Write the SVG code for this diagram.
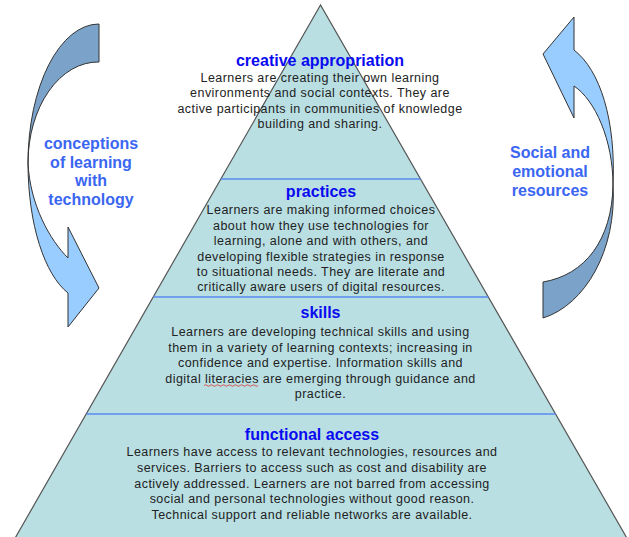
<svg xmlns="http://www.w3.org/2000/svg" width="629" height="537" viewBox="0 0 629 537">
<style>
.layer{fill:#B9DFE3;}
.title{font-family:"Liberation Sans",Arial,sans-serif;font-weight:bold;font-size:16px;fill:#0A0AF0;text-anchor:middle;}
.body{font-family:"Liberation Sans",Arial,sans-serif;font-size:12.5px;letter-spacing:0.45px;fill:#222;text-anchor:middle;}
.side{font-family:"Liberation Sans",Arial,sans-serif;font-weight:bold;font-size:16px;fill:#3A66F2;text-anchor:middle;}
.div{stroke:#5A8AF0;stroke-width:1.5;fill:none;}
.dark{fill:#7BA3C9;stroke:#333;stroke-width:1;}
.light{fill:#99CCFF;stroke:#333;stroke-width:1;}
</style>
<rect width="629" height="537" fill="#fff"/>
<g id="pyramid-outline">
<polygon points="320.5,5 14,540 628,540" fill="#B9DFE3" stroke="#555" stroke-width="1.2"/>
</g>
<g id="creative-appropriation">
<text class="title" x="320" y="66">creative appropriation</text>
<text class="body" x="320" y="81.5">Learners are creating their own learning</text>
<text class="body" x="320" y="97">environments and social contexts. They are</text>
<text class="body" x="320" y="112.5">active participants in communities of knowledge</text>
<text class="body" x="320" y="128">building and sharing.</text>
</g>
<g id="practices">
<text class="title" x="321" y="196.5">practices</text>
<text class="body" x="321" y="214">Learners are making informed choices</text>
<text class="body" x="321" y="229.5">about how they use technologies for</text>
<text class="body" x="321" y="245">learning, alone and with others, and</text>
<text class="body" x="321" y="260.5">developing flexible strategies in response</text>
<text class="body" x="321" y="276">to situational needs. They are literate and</text>
<text class="body" x="321" y="291">critically aware users of digital resources.</text>
</g>
<g id="skills">
<text class="title" x="320.5" y="318">skills</text>
<text class="body" x="320.5" y="336">Learners are developing technical skills and using</text>
<text class="body" x="320.5" y="351.5">them in a variety of learning contexts; increasing in</text>
<text class="body" x="320.5" y="367">confidence and expertise. Information skills and</text>
<text class="body" x="320.5" y="382.5">digital literacies are emerging through guidance and</text>
<text class="body" x="320.5" y="398">practice.</text>
<path d="M204,385.5 q1.5,-1.5 3,0 t3,0 t3,0 t3,0 t3,0 t3,0 t3,0 t3,0 t3,0 t3,0 t3,0 t3,0 t3,0 t3,0 t3,0 t3,0 t3,0 t3,0" fill="none" stroke="#E03030" stroke-width="0.8"/>
</g>
<g id="functional-access">
<text class="title" x="312" y="439.5">functional access</text>
<text class="body" x="312" y="456">Learners have access to relevant technologies, resources and</text>
<text class="body" x="312" y="471.5">services. Barriers to access such as cost and disability are</text>
<text class="body" x="312" y="487.5">actively addressed. Learners are not barred from accessing</text>
<text class="body" x="312" y="503">social and personal technologies without good reason.</text>
<text class="body" x="312" y="518.5">Technical support and reliable networks are available.</text>
</g>
<g id="connectors">
<line class="div" x1="221" y1="179" x2="420.5" y2="179"/>
<line class="div" x1="153.5" y1="297" x2="488.4" y2="297"/>
<line class="div" x1="86.6" y1="414" x2="555.7" y2="414"/>
<path class="dark" d="M99,24 A71,139 0 0 0 28,163 A70,101 0 0 1 99,62 Z"/>
<path class="light" d="M28,163 C28,225 45,275 68,293 L68,327 L99,288 L68,227 L68,258 C50,240 30,205 28,163 Z"/>
<path class="light" d="M574,86 C595,100 613,140 613,185 C616,120 600,70 574,50 L574,17 L543,54 L574,118 Z"/>
<path class="dark" d="M613,185 C617,250 585,305 543,318 L543,282 C585,275 612,240 613,185 Z"/>
</g>
<g id="conceptions-label">
<text class="side" x="91" y="149">conceptions</text>
<text class="side" x="91" y="167.5">of learning</text>
<text class="side" x="91" y="186">with</text>
<text class="side" x="91" y="204.5">technology</text>
</g>
<g id="social-label">
<text class="side" x="550" y="158">Social and</text>
<text class="side" x="550" y="177">emotional</text>
<text class="side" x="550" y="196">resources</text>
</g>
</svg>
